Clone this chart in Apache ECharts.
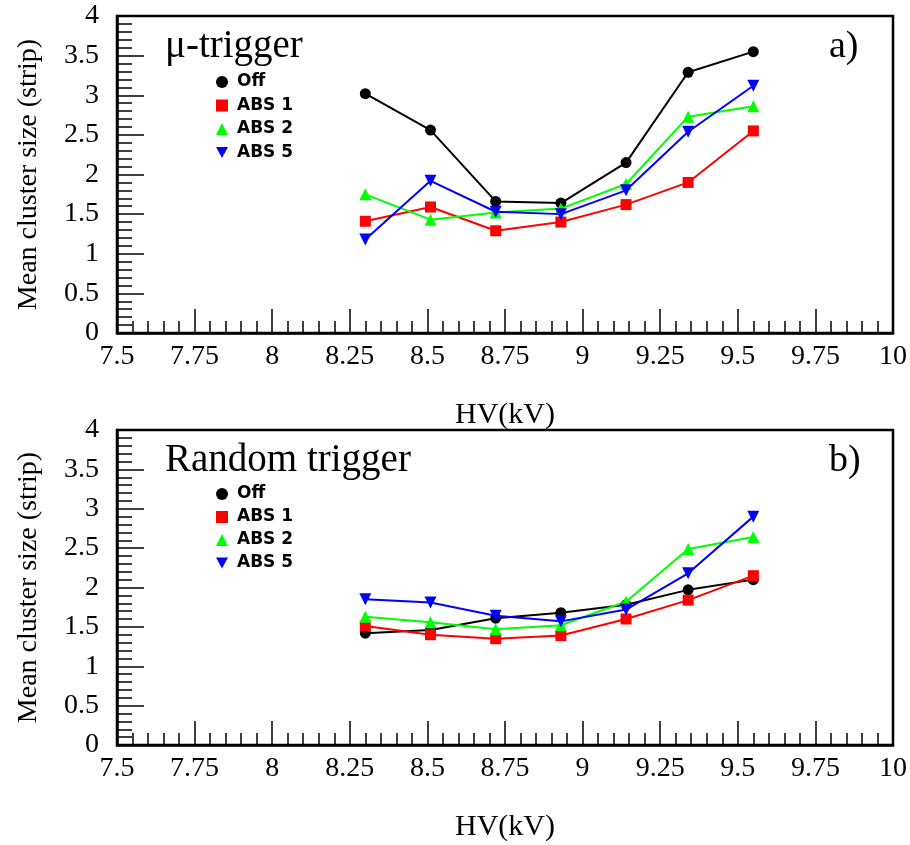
<!DOCTYPE html>
<html>
<head>
<meta charset="utf-8">
<title>Mean cluster size vs HV</title>
<script src="https://cdn.jsdelivr.net/npm/echarts@6/dist/echarts.min.js"></script>
<style>
  html, body { margin: 0; padding: 0; background: #fff; }
  #chart { width: 910px; height: 845px; }
</style>
</head>
<body>
<div id="chart"></div>
<script>
// High voltage set points (kV)
const hv = [8.30, 8.51, 8.72, 8.93, 9.14, 9.34, 9.55];

// Panel a) mu-trigger: mean cluster size (strips)
const muOff  = [3.02, 2.56, 1.66, 1.64, 2.15, 3.29, 3.55];
const muAbs1 = [1.41, 1.59, 1.29, 1.40, 1.62, 1.90, 2.55];
const muAbs2 = [1.75, 1.43, 1.52, 1.57, 1.88, 2.73, 2.86];
const muAbs5 = [1.18, 1.92, 1.53, 1.50, 1.80, 2.54, 3.12];

// Panel b) random trigger: mean cluster size (strips)
const rndOff  = [1.42, 1.46, 1.61, 1.68, 1.78, 1.97, 2.10];
const rndAbs1 = [1.51, 1.40, 1.35, 1.39, 1.60, 1.84, 2.15];
const rndAbs2 = [1.63, 1.56, 1.47, 1.52, 1.82, 2.49, 2.64];
const rndAbs5 = [1.85, 1.81, 1.64, 1.57, 1.72, 2.18, 2.90];

const seriesNames = ['Off', 'ABS 1', 'ABS 2', 'ABS 5'];
const panelTitles = ['\u03bc-trigger', 'Random trigger'];
const panelTags = ['a)', 'b)'];
const xAxisTitle = 'HV(kV)';
const yAxisTitle = 'Mean cluster size (strip)';

const colors = ['#000000', '#ff0000', '#00ff00', '#0000ff'];
const downTriangle = 'path://M0,0 L10,0 L5,9 Z';
const symbols = ['circle', 'rect', 'triangle', downTriangle];
const symbolSizes = [11, 11, 12, 12];

const SERIF = '"Liberation Serif", "Times New Roman", serif';
const SANS_BOLD = '"DejaVu Sans", "Liberation Sans", sans-serif';

const grids = [
  { left: 117, top: 16, width: 776, height: 317 },
  { left: 117, top: 430, width: 776, height: 315 }
];

function xAxisFor(i) {
  return {
    type: 'value', gridIndex: i, min: 7.5, max: 10, interval: 0.25,
    name: xAxisTitle, nameLocation: 'middle', nameGap: 67,
    nameTextStyle: { fontFamily: SERIF, fontSize: 30, color: '#000' },
    axisLine: { show: true, lineStyle: { color: '#000', width: 2.5 } },
    axisTick: { show: true, inside: true, length: 24, lineStyle: { color: '#000', width: 1.5 } },
    minorTick: { show: true, splitNumber: 5, length: 12, lineStyle: { color: '#000', width: 1.5 } },
    axisLabel: {
      fontFamily: SERIF, fontSize: 28, color: '#000', margin: 10,
      formatter: v => String(+v.toFixed(2)),
      showMinLabel: true, showMaxLabel: true
    },
    splitLine: { show: false }
  };
}

function yAxisFor(i) {
  return {
    type: 'value', gridIndex: i, min: 0, max: 4, interval: 0.5,
    name: yAxisTitle, nameLocation: 'middle', nameGap: 74, nameRotate: 90,
    nameTextStyle: { fontFamily: SERIF, fontSize: 28, color: '#000' },
    axisLine: { show: true, lineStyle: { color: '#000', width: 2.5 } },
    axisTick: { show: true, inside: true, length: 27, lineStyle: { color: '#000', width: 1.5 } },
    minorTick: { show: true, splitNumber: 5, length: 15, lineStyle: { color: '#000', width: 1.5 } },
    axisLabel: {
      fontFamily: SERIF, fontSize: 28, color: '#000', margin: 18,
      formatter: v => String(+v.toFixed(1)),
      showMinLabel: true, showMaxLabel: true
    },
    splitLine: { show: false }
  };
}

const panels = [
  [muOff, muAbs1, muAbs2, muAbs5],
  [rndOff, rndAbs1, rndAbs2, rndAbs5]
];

const series = [];
panels.forEach((sets, p) => {
  sets.forEach((vals, k) => {
    series.push({
      type: 'line', name: seriesNames[k],
      xAxisIndex: p, yAxisIndex: p,
      data: hv.map((x, j) => [x, vals[j]]),
      symbol: symbols[k], symbolSize: symbolSizes[k],
      showAllSymbol: true,
      lineStyle: { color: colors[k], width: 2 },
      itemStyle: { color: colors[k] },
      z: 2 + k
    });
  });
});

function legendFor(top, gap) {
  return {
    orient: 'vertical', left: 211, top: top,
    itemWidth: 12, itemHeight: 12, itemGap: gap,
    selectedMode: false,
    data: seriesNames.map((n, k) => ({ name: n, icon: symbols[k] })),
    textStyle: {
      fontFamily: SANS_BOLD, fontWeight: 'bold', fontSize: 17, color: '#000',
      lineHeight: 18, padding: [0, 0, 0, 4]
    }
  };
}

const graphics = [];
[47, 461].forEach((y, p) => {
  graphics.push({
    type: 'text', x: 165, y: y, silent: true,
    style: { text: panelTitles[p], font: '39px ' + SERIF, fill: '#000', textAlign: 'left', textVerticalAlign: 'middle', verticalAlign: 'middle' }
  });
  graphics.push({
    type: 'text', x: 829, y: y, silent: true,
    style: { text: panelTags[p], font: '38px ' + SERIF, fill: '#000', textAlign: 'left', textVerticalAlign: 'middle', verticalAlign: 'middle' }
  });
});

const chart = echarts.init(document.getElementById('chart'), null, { renderer: 'canvas' });
chart.setOption({
  animation: false,
  backgroundColor: '#ffffff',
  grid: grids.map(g => Object.assign({ show: true, borderColor: '#000', borderWidth: 2.5, backgroundColor: 'transparent' }, g)),
  xAxis: [xAxisFor(0), xAxisFor(1)],
  yAxis: [yAxisFor(0), yAxisFor(1)],
  legend: [legendFor(68, 5.5), legendFor(480, 5)],
  series: series,
  graphic: graphics
});
</script>
</body>
</html>
